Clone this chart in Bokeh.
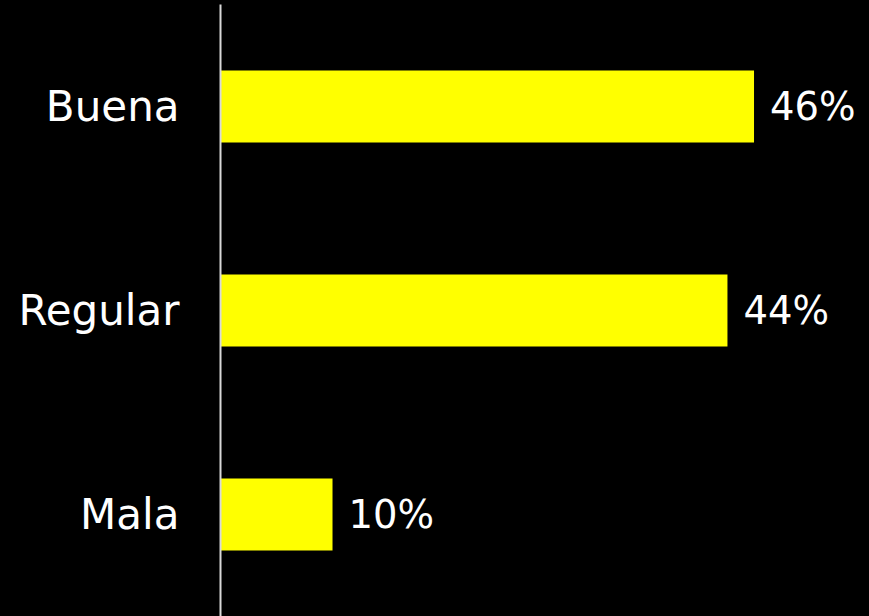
from bokeh.plotting import figure
from bokeh.models import Range1d, ColumnDataSource, LabelSet
from bokeh.core.properties import value
from bokeh.embed import file_html
from bokeh.resources import INLINE

categories = ["Buena", "Regular", "Mala"]
values = [46.2, 43.9, 9.7]
labels = ["46%", "44%", "10%"]

src = ColumnDataSource(dict(cat=categories, val=values, lab=labels))

p = figure(width=869, height=616, y_range=list(reversed(categories)),
           x_range=Range1d(0, 56.2), output_backend="svg", toolbar_location=None,
           min_border_left=220, min_border_top=4, min_border_bottom=0, min_border_right=0,
           background_fill_color="black", border_fill_color="black",
           outline_line_color=None)

p.hbar(y="cat", right="val", left=0, height=0.353, source=src, color="#FFFF00", line_color=None)

p.add_layout(LabelSet(x="val", y="cat", text="lab", source=src, x_offset=16,
                      text_baseline="middle", text_color="white",
                      text_font=value("DejaVu Sans"), text_font_size="38.5px"))

p.xaxis.visible = False
p.xgrid.visible = False
p.ygrid.visible = False
yax = p.yaxis[0]
yax.axis_line_color = "#d9d9d9"
yax.axis_line_width = 2
yax.major_tick_line_color = None
yax.minor_tick_line_color = None
yax.major_tick_out = 0
yax.major_tick_in = 0
yax.major_label_standoff = 41
yax.major_label_text_color = "white"
yax.major_label_text_font = "DejaVu Sans"
yax.major_label_text_font_size = "42px"

html = file_html(p, INLINE)
html = html.replace("<head>", "<head><style>html,body{margin:0;padding:0;background:#000;overflow:hidden;}</style>", 1)
open("out.html", "w").write(html)
